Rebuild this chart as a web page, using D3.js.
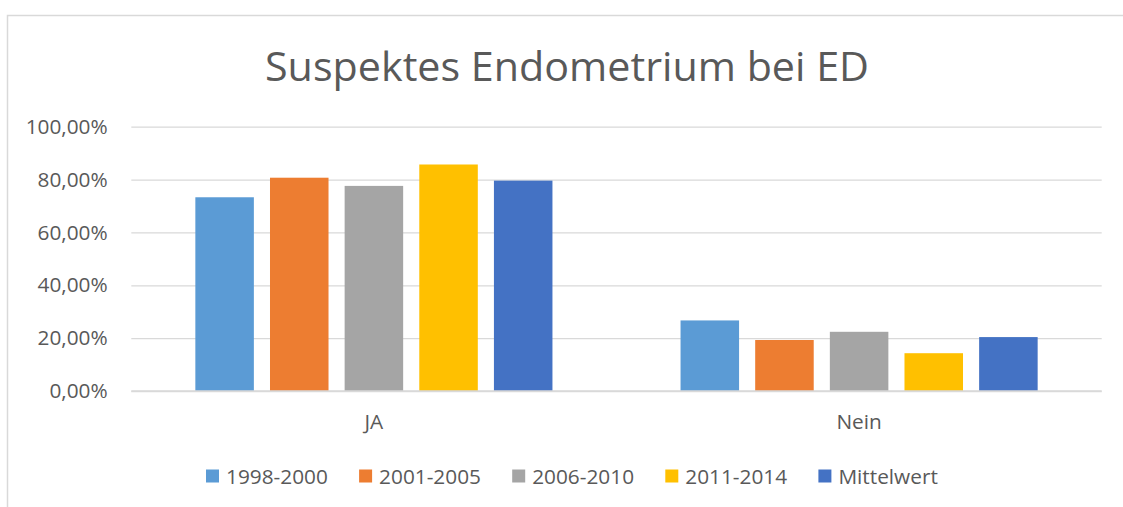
<!DOCTYPE html>
<html>
<head>
<meta charset="utf-8">
<script src="https://cdn.jsdelivr.net/npm/d3@7"></script>
<style>
  html, body { margin: 0; padding: 0; background: #fff; }
  svg { display: block; }
  text { font-family: "Open Sans", "Noto Sans", sans-serif; fill: #595959; }
</style>
</head>
<body>
<svg id="chart" width="1123" height="507"></svg>
<script>
// ---- data ----
const title = "Suspektes Endometrium bei ED";
const categories = ["JA", "Nein"];
const seriesNames = ["1998-2000", "2001-2005", "2006-2010", "2011-2014", "Mittelwert"];
const s1998_2000 = [0.733, 0.267];
const s2001_2005 = [0.807, 0.193];
const s2006_2010 = [0.776, 0.224];
const s2011_2014 = [0.857, 0.143];
const sMittelwert = [0.796, 0.204];
const seriesValues = [s1998_2000, s2001_2005, s2006_2010, s2011_2014, sMittelwert];
const yTicks = [0, 0.2, 0.4, 0.6, 0.8, 1.0];
const colors = ["#5B9BD5", "#ED7D31", "#A5A5A5", "#FFC000", "#4472C4"];

// ---- layout ----
const svg = d3.select("#chart");
const W = 1123, H = 507;
const plot = { left: 131.3, right: 1101.7, top: 126.7, bottom: 391 };
const labelSize = 20.8;

// frame
svg.append("rect")
  .attr("x", 7.5).attr("y", 15.5)
  .attr("width", W + 20).attr("height", H + 20)
  .attr("fill", "#fff").attr("stroke", "#d9d9d9").attr("stroke-width", 1.5);

// title
svg.append("text")
  .attr("x", 567).attr("y", 81)
  .attr("text-anchor", "middle")
  .attr("font-size", 41)
  .attr("textLength", 604).attr("lengthAdjust", "spacingAndGlyphs")
  .text(title);

const de = d3.formatLocale({ decimal: ",", thousands: ".", grouping: [3], currency: ["", " €"] });
const fmt = de.format(".2%");

const y = d3.scaleLinear().domain([0, 1]).range([plot.bottom, plot.top]);
const x0 = d3.scaleBand().domain(categories).range([plot.left, plot.right])
  .paddingInner(0.264).paddingOuter(0.132);
const x1 = d3.scaleBand().domain(seriesNames).range([0, x0.bandwidth()]).paddingInner(0.216);

// y axis with gridlines
const yAxis = d3.axisLeft(y).tickValues(yTicks).tickFormat(fmt)
  .tickSize(-(plot.right - plot.left)).tickPadding(23.6);
const gy = svg.append("g").attr("transform", `translate(${plot.left},0)`).call(yAxis);
gy.select(".domain").remove();
gy.selectAll(".tick line").attr("stroke", "#d9d9d9").attr("stroke-width", 1.3);
gy.selectAll(".tick text").attr("font-size", labelSize).attr("fill", "#595959")
  .style("font-family", '"Open Sans", "Noto Sans", sans-serif');

// bars
const groups = svg.append("g").selectAll("g")
  .data(categories)
  .join("g")
  .attr("transform", d => `translate(${x0(d)},0)`);

groups.selectAll("rect")
  .data((c, ci) => seriesNames.map((s, si) => ({ s, si, v: seriesValues[si][ci] })))
  .join("rect")
  .attr("x", d => x1(d.s))
  .attr("width", x1.bandwidth())
  .attr("y", d => y(d.v))
  .attr("height", d => y(0) - y(d.v))
  .attr("fill", d => colors[d.si]);

// baseline redraw (0 line over bars)
svg.append("line")
  .attr("x1", plot.left).attr("x2", plot.right)
  .attr("y1", y(0)).attr("y2", y(0))
  .attr("stroke", "#d9d9d9").attr("stroke-width", 1.3);

// category labels
svg.append("g").selectAll("text")
  .data(categories)
  .join("text")
  .attr("x", d => x0(d) + x0.bandwidth() / 2)
  .attr("y", 429)
  .attr("text-anchor", "middle")
  .attr("font-size", labelSize)
  .text(d => d);

// legend
const legendStart = 206, legendStep = 153.1;
const lg = svg.append("g").selectAll("g")
  .data(seriesNames)
  .join("g")
  .attr("transform", (d, i) => `translate(${legendStart + i * legendStep},0)`);
lg.append("rect")
  .attr("x", 0).attr("y", 469.5).attr("width", 13).attr("height", 13)
  .attr("fill", (d, i) => colors[i]);
lg.append("text")
  .attr("x", 20).attr("y", 483.5)
  .attr("font-size", labelSize)
  .text(d => d);
</script>
</body>
</html>
